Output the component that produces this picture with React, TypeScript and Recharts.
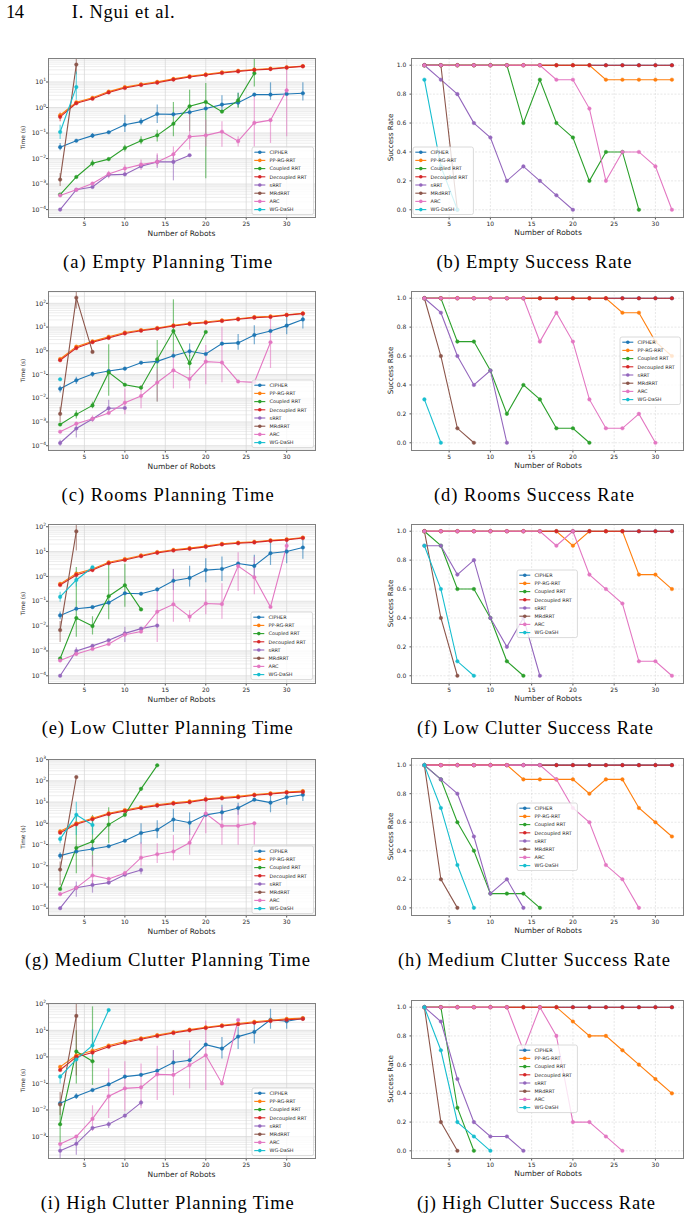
import React from "react"
import { LineChart, Line, XAxis, YAxis, CartesianGrid, ErrorBar } from "recharts"

type Val = number | null
// [method, robots, low, high]
type Err = [string, number, number, number]

const robots = [2, 4, 6, 8, 10, 12, 14, 16, 18, 20, 22, 24, 26, 28, 30, 32]
const methods = ["CIPHER", "PP-RG-RRT", "Coupled RRT", "Decoupled RRT", "sRRT", "MRdRRT", "ARC", "WG-DaSH"]
const colors = ["#1f77b4", "#ff7f0e", "#2ca02c", "#d62728", "#9467bd", "#8c564b", "#e377c2", "#17becf"]
const xTicks = [5, 10, 15, 20, 25, 30]
const rateTicks = [0, 0.2, 0.4, 0.6, 0.8, 1.0]

// ---- planning time (s), one row per method ----
const emptyTime: Val[][] = [
  [0.028, 0.05, 0.079, 0.107, 0.21, 0.28, 0.56, 0.54, 0.65, 0.91, 1.3, 1.55, 3.2, 3.2, 3.4, 3.6],
  [0.5, 1.6, 2.4, 4.2, 6.3, 8.1, 10.1, 13.2, 16.8, 19.8, 24, 27.5, 31, 33.5, 38, 42],
  [0.00039, 0.0019, 0.0065, 0.0095, 0.026, 0.05, 0.081, 0.23, 1.12, 1.65, 0.69, 1.9, 22, null, null, null],
  [0.43, 1.46, 2.2, 3.9, 5.8, 7.6, 9.4, 12.4, 15.8, 18.8, 22.4, 26, 29.5, 32, 36.5, 41],
  [0.0001, 0.0006, 0.00077, 0.0023, 0.0024, 0.005, 0.0074, 0.0074, 0.0135, null, null, null, null, null, null, null],
  [0.0015, 48, null, null, null, null, null, null, null, null, null, null, null, null, null, null],
  [0.00036, 0.0006, 0.00105, 0.0025, 0.0041, 0.0058, 0.0074, 0.0148, 0.072, 0.081, 0.113, 0.048, 0.25, 0.32, 4.7, null],
  [0.11, 6.3, null, null, null, null, null, null, null, null, null, null, null, null, null, null],
]
const emptyTimeErr: Err[] = [
  ["CIPHER", 2, 0.021, 0.041], ["CIPHER", 6, 0.064, 0.1], ["CIPHER", 10, 0.11, 0.52],
  ["CIPHER", 12, 0.21, 0.39], ["CIPHER", 14, 0.25, 1.3], ["CIPHER", 22, 0.71, 3.0],
  ["CIPHER", 24, 1.05, 3.9], ["CIPHER", 28, 2.0, 9.7], ["CIPHER", 32, 1.9, 9.7],
  ["Decoupled RRT", 2, 0.29, 0.64],
  ["Coupled RRT", 6, 0.0049, 0.009], ["Coupled RRT", 10, 0.019, 0.035], ["Coupled RRT", 12, 0.036, 0.074],
  ["Coupled RRT", 14, 0.047, 0.135], ["Coupled RRT", 16, 0.075, 1.65], ["Coupled RRT", 18, 0.118, 5.0],
  ["Coupled RRT", 20, 0.0017, 9.1], ["Coupled RRT", 24, 0.96, 3.7], ["Coupled RRT", 26, 6.7, 200],
  ["ARC", 8, 0.0017, 0.0033], ["ARC", 10, 0.0027, 0.0058], ["ARC", 12, 0.0036, 0.0091],
  ["ARC", 14, 0.005, 0.016], ["ARC", 16, 0.0067, 0.03], ["ARC", 18, 0.0224, 0.61],
  ["ARC", 20, 0.03, 0.34], ["ARC", 22, 0.029, 0.29], ["ARC", 24, 0.03, 0.074],
  ["ARC", 26, 0.03, 3.7], ["ARC", 28, 0.041, 0.34], ["ARC", 30, 0.075, 41],
  ["sRRT", 14, 0.0043, 0.014], ["sRRT", 16, 0.0014, 0.014],
  ["MRdRRT", 2, 0.00084, 0.0027], ["MRdRRT", 4, 20, 200],
  ["WG-DaSH", 2, 0.058, 0.21], ["WG-DaSH", 4, 2.0, 26],
]

const roomsTime: Val[][] = [
  [0.025, 0.057, 0.105, 0.14, 0.177, 0.316, 0.36, 0.62, 0.95, 0.73, 2.0, 2.15, 4.6, 6.8, 11.5, 21],
  [0.45, 1.5, 2.5, 3.9, 5.9, 7.5, 9.2, 11.8, 14.3, 16.3, 19.3, 22.5, 26.5, 28.5, 33, 38],
  [0.00078, 0.0021, 0.005, 0.123, 0.037, 0.028, 0.44, 6.8, 0.3, 6.2, null, null, null, null, null, null],
  [0.4, 1.3, 2.3, 3.5, 5.4, 7.0, 8.6, 11.1, 13.4, 15.3, 18, 21.2, 25, 26.6, 32, 36.7],
  [0.00013, 0.00053, 0.00134, 0.0038, 0.0039, null, null, null, null, null, null, null, null, null, null, null],
  [0.0022, 173, 0.9, null, null, null, null, null, null, null, null, null, null, null, null, null],
  [0.00039, 0.00085, 0.00138, 0.0024, 0.0065, 0.0125, 0.046, 0.15, 0.065, 0.35, 0.32, 0.051, 0.047, 2.3, null, null],
  [0.063, null, null, null, null, null, null, null, null, null, null, null, null, null, null, null],
]
const roomsTimeErr: Err[] = [
  ["CIPHER", 2, 0.0176, 0.034], ["CIPHER", 4, 0.04, 0.081], ["CIPHER", 6, 0.081, 0.13],
  ["CIPHER", 18, 0.57, 2.06], ["CIPHER", 24, 1.1, 5.1], ["CIPHER", 26, 1.88, 12],
  ["CIPHER", 30, 5, 27], ["CIPHER", 32, 8.8, 42],
  ["Coupled RRT", 4, 0.0014, 0.0031], ["Coupled RRT", 6, 0.0038, 0.0072], ["Coupled RRT", 8, 0.0128, 1.88],
  ["Coupled RRT", 14, 0.0073, 2.85], ["Coupled RRT", 16, 0.67, 148], ["Coupled RRT", 18, 0.155, 0.67],
  ["ARC", 6, 0.001, 0.0019], ["ARC", 10, 0.0021, 0.026], ["ARC", 12, 0.0038, 0.036],
  ["ARC", 14, 0.0073, 0.18], ["ARC", 16, 0.026, 0.92], ["ARC", 18, 0.026, 0.18],
  ["ARC", 20, 0.039, 1.75], ["ARC", 22, 0.047, 10.4], ["ARC", 28, 0.19, 27],
  ["sRRT", 2, 0.0001, 0.00018], ["sRRT", 4, 0.00022, 0.0009], ["sRRT", 8, 0.0021, 0.0086],
  ["MRdRRT", 2, 0.001, 0.0044], ["MRdRRT", 4, 60, 330],
]

const lowTime: Val[][] = [
  [0.027, 0.05, 0.058, 0.088, 0.21, 0.2, 0.3, 0.67, 0.87, 1.8, 2.0, 3.3, 2.65, 8.6, 10, 14.6],
  [0.5, 1.3, 2.0, 3.7, 5.0, 7.0, 9.6, 11.8, 13.8, 16.6, 20.6, 23, 25, 28.5, 31.5, 37],
  [0.0005, 0.021, 0.01, 0.16, 0.44, 0.047, null, null, null, null, null, null, null, null, null, null],
  [0.45, 1.15, 1.8, 3.4, 4.6, 6.5, 8.9, 11, 12.9, 15.5, 19.4, 21.5, 23.4, 27, 29.5, 35],
  [0.0001, 0.001, 0.0016, 0.0027, 0.0051, 0.0079, 0.0105, null, null, null, null, null, null, null, null, null],
  [0.0069, 65, null, null, null, null, null, null, null, null, null, null, null, null, null, null],
  [0.00041, 0.00076, 0.0012, 0.0019, 0.0045, 0.006, 0.038, 0.075, 0.024, 0.081, 0.077, 2.6, 0.92, 0.059, 17, null],
  [0.15, 0.72, 2.35, null, null, null, null, null, null, null, null, null, null, null, null, null],
]
const lowTimeErr: Err[] = [
  ["CIPHER", 2, 0.019, 0.039], ["CIPHER", 16, 0.28, 2.0], ["CIPHER", 18, 0.39, 2.7],
  ["CIPHER", 20, 0.58, 5.4], ["CIPHER", 22, 0.66, 6.3], ["CIPHER", 26, 0.84, 7.4],
  ["CIPHER", 28, 2.9, 25.5], ["CIPHER", 30, 3.4, 25.5], ["CIPHER", 32, 5.1, 33],
  ["Coupled RRT", 4, 0.0037, 2.4], ["Coupled RRT", 6, 0.0046, 0.025], ["Coupled RRT", 8, 0.019, 3.1],
  ["Coupled RRT", 10, 0.06, 3.2],
  ["ARC", 14, 0.0023, 0.3], ["ARC", 16, 0.015, 2.0], ["ARC", 18, 0.0148, 0.044],
  ["ARC", 20, 0.03, 0.31], ["ARC", 22, 0.02, 0.53], ["ARC", 24, 0.26, 9.5],
  ["ARC", 26, 0.19, 6.2], ["ARC", 30, 9, 27],
  ["sRRT", 4, 0.00066, 0.0014], ["sRRT", 10, 0.0023, 0.0095],
  ["MRdRRT", 2, 0.0023, 0.016], ["MRdRRT", 4, 11, 128],
  ["WG-DaSH", 2, 0.095, 0.24], ["WG-DaSH", 4, 0.39, 1.65],
]

const mediumTime: Val[][] = [
  [0.03, 0.047, 0.062, 0.083, 0.15, 0.35, 0.5, 1.5, 1.07, 2.5, 3.3, 5.3, 13, 9.4, 17, 22],
  [0.42, 1.0, 1.75, 3.0, 4.2, 5.8, 7.5, 9.3, 10.8, 14, 16.5, 18.5, 22.5, 26, 30, 33],
  [0.0008, 0.069, 0.14, 0.87, 2.5, 42, 540, null, null, null, null, null, null, null, null, null],
  [0.36, 0.9, 1.55, 2.7, 3.8, 5.3, 6.8, 8.5, 9.8, 13, 15, 17, 21, 24, 28, 30],
  [0.0001, 0.00093, 0.00125, 0.0016, 0.0038, 0.0063, null, null, null, null, null, null, null, null, null, null],
  [0.0066, 150, null, null, null, null, null, null, null, null, null, null, null, null, null, null],
  [0.00046, 0.00091, 0.0035, 0.0024, 0.0045, 0.024, 0.035, 0.047, 0.12, 2.9, 0.76, 0.76, 1.0, null, null, null],
  [0.18, 2.5, 0.83, null, null, null, null, null, null, null, null, null, null, null, null, null],
]
const mediumTimeErr: Err[] = [
  ["CIPHER", 2, 0.021, 0.043], ["CIPHER", 12, 0.11, 1.0], ["CIPHER", 14, 0.2, 1.4],
  ["CIPHER", 16, 0.4, 4.8], ["CIPHER", 18, 0.28, 3.3], ["CIPHER", 22, 1.4, 7.4],
  ["CIPHER", 24, 2.5, 9.4], ["CIPHER", 28, 3.3, 21.6], ["CIPHER", 30, 7.4, 33], ["CIPHER", 32, 11.4, 40],
  ["Coupled RRT", 4, 0.0044, 2.5], ["Coupled RRT", 6, 0.0091, 2.5], ["Coupled RRT", 8, 0.115, 5.7],
  ["ARC", 6, 0.00126, 0.032], ["ARC", 12, 0.0093, 0.128], ["ARC", 14, 0.0135, 0.115],
  ["ARC", 16, 0.0177, 0.28], ["ARC", 18, 0.033, 0.58], ["ARC", 20, 0.34, 21.6],
  ["ARC", 22, 0.097, 6.1], ["ARC", 24, 0.097, 7.4], ["ARC", 26, 0.1, 1.0],
  ["sRRT", 4, 0.00035, 0.0018], ["sRRT", 6, 0.00054, 0.0021], ["sRRT", 12, 0.004, 0.0081],
  ["MRdRRT", 2, 0.0012, 0.016],
  ["WG-DaSH", 2, 0.115, 0.25], ["WG-DaSH", 4, 0.28, 10.5], ["WG-DaSH", 6, 0.3, 1.7],
]

const highTime: Val[][] = [
  [0.018, 0.033, 0.056, 0.092, 0.18, 0.21, 0.3, 0.61, 0.75, 2.9, 2.05, 5.8, 8.7, 25, 22, 28],
  [0.42, 1.15, 1.7, 2.7, 3.8, 5.0, 6.6, 8.5, 10.6, 13, 15.4, 18, 21, 24, 27, 29],
  [0.0029, 1.6, 0.68, null, null, null, null, null, null, null, null, null, null, null, null, null],
  [0.32, 1.0, 1.45, 2.4, 3.4, 4.6, 6.1, 7.9, 10, 12.2, 14.5, 16.8, 19.4, 22.4, 25, 27],
  [0.00029, 0.00053, 0.0021, 0.0029, 0.0061, 0.019, null, null, null, null, null, null, null, null, null, null],
  [0.016, 35, null, null, null, null, null, null, null, null, null, null, null, null, null, null],
  [0.00052, 0.001, 0.0046, 0.033, 0.065, 0.071, 0.22, 0.21, 0.49, 1.15, 0.1, 24.5, null, null, null, null],
  [0.18, 0.8, 2.7, 58, null, null, null, null, null, null, null, null, null, null, null, null],
]
const highTimeErr: Err[] = [
  ["CIPHER", 4, 0.026, 0.043], ["CIPHER", 16, 0.27, 1.8], ["CIPHER", 22, 0.87, 5.6],
  ["CIPHER", 24, 2.0, 13.3], ["CIPHER", 26, 3.2, 17.8], ["CIPHER", 28, 11.5, 65], ["CIPHER", 30, 11.5, 31],
  ["Coupled RRT", 2, 0.0006, 0.0142], ["Coupled RRT", 4, 0.1, 10], ["Coupled RRT", 6, 0.088, 80],
  ["ARC", 6, 0.0016, 0.015], ["ARC", 8, 0.005, 0.37], ["ARC", 10, 0.0089, 0.69],
  ["ARC", 12, 0.0115, 0.56], ["ARC", 14, 0.0237, 2.6], ["ARC", 16, 0.036, 1.8],
  ["ARC", 18, 0.065, 4.2], ["ARC", 20, 0.056, 23.7], ["ARC", 24, 20, 27],
  ["sRRT", 2, 0.0001, 0.00049], ["sRRT", 4, 0.000207, 0.001], ["sRRT", 8, 0.0021, 0.0037], ["sRRT", 12, 0.0145, 0.024],
  ["MRdRRT", 2, 0.0065, 0.048], ["MRdRRT", 4, 0.2, 105],
  ["WG-DaSH", 2, 0.1, 0.22], ["WG-DaSH", 6, 1.0, 11],
]

// ---- success rate, one row per method ----
const emptyRate: Val[][] = [
  [1, 1, 1, 1, 1, 1, 1, 1, 1, 1, 1, 1, 1, 1, 1, 1],
  [1, 1, 1, 1, 1, 1, 1, 1, 1, 1, 1, 0.9, 0.9, 0.9, 0.9, 0.9],
  [1, 1, 1, 1, 1, 1, 0.6, 0.9, 0.6, 0.5, 0.2, 0.4, 0.4, 0.0, null, null],
  [1, 1, 1, 1, 1, 1, 1, 1, 1, 1, 1, 1, 1, 1, 1, 1],
  [1.0, 0.9, 0.8, 0.6, 0.5, 0.2, 0.3, 0.2, 0.1, 0.0, null, null, null, null, null, null],
  [1.0, 1.0, 0.0, null, null, null, null, null, null, null, null, null, null, null, null, null],
  [1, 1, 1, 1, 1, 1, 1, 1, 0.9, 0.9, 0.7, 0.2, 0.4, 0.4, 0.3, 0.0],
  [0.9, 0.3, 0.0, null, null, null, null, null, null, null, null, null, null, null, null, null],
]
const roomsRate: Val[][] = [
  [1, 1, 1, 1, 1, 1, 1, 1, 1, 1, 1, 1, 1, 1, 1, 1],
  [1, 1, 1, 1, 1, 1, 1, 1, 1, 1, 1, 1, 0.9, 0.9, 0.7, 0.6],
  [1.0, 1.0, 0.7, 0.7, 0.5, 0.2, 0.4, 0.3, 0.1, 0.1, 0.0, null, null, null, null, null],
  [1, 1, 1, 1, 1, 1, 1, 1, 1, 1, 1, 1, 1, 1, 1, 1],
  [1.0, 0.9, 0.6, 0.4, 0.5, 0.0, null, null, null, null, null, null, null, null, null, null],
  [1.0, 0.6, 0.1, 0.0, null, null, null, null, null, null, null, null, null, null, null, null],
  [1, 1, 1, 1, 1, 1, 1, 0.7, 0.9, 0.7, 0.3, 0.1, 0.1, 0.2, 0.0, null],
  [0.3, 0.0, null, null, null, null, null, null, null, null, null, null, null, null, null, null],
]
const lowRate: Val[][] = [
  [1, 1, 1, 1, 1, 1, 1, 1, 1, 1, 1, 1, 1, 1, 1, 1],
  [1, 1, 1, 1, 1, 1, 1, 1, 1, 0.9, 1, 1, 1, 0.7, 0.7, 0.6],
  [1.0, 0.9, 0.6, 0.6, 0.4, 0.1, 0.0, null, null, null, null, null, null, null, null, null],
  [1, 1, 1, 1, 1, 1, 1, 1, 1, 1, 1, 1, 1, 1, 1, 1],
  [0.9, 0.9, 0.7, 0.8, 0.4, 0.2, 0.4, 0.0, null, null, null, null, null, null, null, null],
  [1.0, 0.4, 0.0, null, null, null, null, null, null, null, null, null, null, null, null, null],
  [1, 1, 1, 1, 1, 1, 1, 1, 0.9, 1.0, 0.7, 0.6, 0.5, 0.1, 0.1, 0.0],
  [0.9, 0.6, 0.1, 0.0, null, null, null, null, null, null, null, null, null, null, null, null],
]
const mediumRate: Val[][] = [
  [1, 1, 1, 1, 1, 1, 1, 1, 1, 1, 1, 1, 1, 1, 1, 1],
  [1, 1, 1, 1, 1, 1, 0.9, 0.9, 0.9, 0.9, 0.8, 0.9, 0.9, 0.7, 0.6, 0.5],
  [1.0, 0.9, 0.6, 0.4, 0.1, 0.1, 0.1, 0.0, null, null, null, null, null, null, null, null],
  [1, 1, 1, 1, 1, 1, 1, 1, 1, 1, 1, 1, 1, 1, 1, 1],
  [1.0, 0.9, 0.8, 0.5, 0.1, 0.2, 0.0, null, null, null, null, null, null, null, null, null],
  [1.0, 0.2, 0.0, null, null, null, null, null, null, null, null, null, null, null, null, null],
  [1, 1, 1, 1, 1, 1, 1, 1, 0.9, 0.7, 0.6, 0.3, 0.2, 0.0, null, null],
  [1.0, 0.7, 0.3, 0.0, null, null, null, null, null, null, null, null, null, null, null, null],
]
const highRate: Val[][] = [
  [1, 1, 1, 1, 1, 1, 1, 1, 1, 1, 1, 1, 1, 1, 1, 1],
  [1, 1, 1, 1, 1, 1, 1, 1, 1, 0.9, 0.8, 0.8, 0.7, 0.6, 0.5, 0.4],
  [1.0, 1.0, 0.3, 0.0, null, null, null, null, null, null, null, null, null, null, null, null],
  [1, 1, 1, 1, 1, 1, 1, 1, 1, 1, 1, 1, 1, 1, 1, 1],
  [1.0, 0.9, 0.5, 0.2, 0.1, 0.1, 0.0, null, null, null, null, null, null, null, null, null],
  [1.0, 0.2, 0.0, null, null, null, null, null, null, null, null, null, null, null, null, null],
  [1, 1, 1, 1, 1, 1, 0.7, 1.0, 0.8, 0.2, 0.2, 0.1, 0.0, null, null, null],
  [1.0, 0.7, 0.2, 0.1, 0.0, null, null, null, null, null, null, null, null, null, null, null],
]

// layout: plot box [x, y, w, h] in page pixels, legend top-left corner
const timePanels = [
  { series: emptyTime, errs: emptyTimeErr, logRange: [-4.29, 1.94], box: [48, 58, 267, 159], legend: [251.7, 146.7] },
  { series: roomsTime, errs: roomsTimeErr, logRange: [-4.18, 2.52], box: [48, 291, 267, 159], legend: [251.7, 380] },
  { series: lowTime, errs: lowTimeErr, logRange: [-4.29, 2.11], box: [48, 524, 267, 159], legend: [251.3, 612.3] },
  { series: mediumTime, errs: mediumTimeErr, logRange: [-4.32, 3.03], box: [48, 759, 267, 156], legend: [251.7, 846] },
  { series: highTime, errs: highTimeErr, logRange: [-3.81, 2.03], box: [48, 1003, 267, 155], legend: [251.7, 1088.3] },
]
const ratePanels = [
  { series: emptyRate, box: [411.7, 58, 272.3, 159], legend: [413.3, 146.7] },
  { series: roomsRate, box: [411.7, 291, 272.3, 159], legend: [620, 336.7] },
  { series: lowRate, box: [411.7, 524, 272.3, 159], legend: [517.3, 570] },
  { series: mediumRate, box: [411.7, 758, 272.3, 157], legend: [517.3, 802.7] },
  { series: highRate, box: [411.7, 1000, 272.3, 158], legend: [517.3, 1045] },
]

// caption text, centre x, baseline y, width
const captions: [string, number, number, number][] = [
  ["(a) Empty Planning Time", 167.6, 268, 209],
  ["(b) Empty Success Rate", 534, 268, 195],
  ["(c) Rooms Planning Time", 167.6, 501, 212],
  ["(d) Rooms Success Rate", 534, 501, 200],
  ["(e) Low Clutter Planning Time", 167.3, 733.5, 251],
  ["(f) Low Clutter Success Rate", 535, 733.5, 236],
  ["(g) Medium Clutter Planning Time", 167.5, 966, 285],
  ["(h) Medium Clutter Success Rate", 534, 966, 272],
  ["(i) High Clutter Planning Time", 167.3, 1208.5, 253],
  ["(j) High Clutter Success Rate", 536, 1208.5, 238],
]

const FONT = "DejaVu Sans"
const INK = "#262626"
const YW = 40
const MT = 6
const MR = 6
const XH = 22

function seriesRows(series: Val[][]) {
  return robots.map((r, i) => {
    const row: Record<string, any> = { robots: r }
    series.forEach((vals, k) => {
      row[`m${k}`] = vals[i]
    })
    return row
  })
}

// error bars are stored as absolute bounds; recharts wants offsets from the value
function withErrors(rows: Record<string, any>[], errs: Err[], dMin: number, dMax: number) {
  errs.forEach(([name, r, low, high]) => {
    const k = methods.indexOf(name)
    const row = rows[robots.indexOf(r)]
    const v = row[`m${k}`]
    if (v == null) return
    row[`e${k}`] = [v - Math.max(low, dMin), Math.min(high, dMax) - v]
  })
  return rows
}

function PowTick({ x, y, payload }: any) {
  const e = Math.round(Math.log10(payload.value))
  return (
    <text x={x} y={y} dy={2.2} textAnchor="end" fontSize={6.2} fill={INK} fontFamily={FONT}>
      10
      <tspan fontSize={4.4} dy={-3}>{e < 0 ? "\u2212" + -e : String(e)}</tspan>
    </text>
  )
}

function LegendBox({ x, y, w }: { x: number; y: number; w: number }) {
  const h = 67.6
  return (
    <svg width={w + 2} height={h + 2} style={{ position: "absolute", left: x - 1, top: y - 1 }}>
      <rect x={1} y={1} width={w} height={h} rx={2} fill="#fff" fillOpacity={0.8} stroke="#d0d0d0" strokeWidth={0.8} />
      {methods.map((m, k) => {
        const cy = 1 + 5.2 + k * 8.2
        return (
          <g key={m}>
            <line x1={3.3} x2={14.3} y1={cy} y2={cy} stroke={colors[k]} strokeWidth={1.1} />
            <circle cx={8.8} cy={cy} r={1.8} fill={colors[k]} />
            <text x={18.6} y={cy} dy={1.7} fontSize={4.9} fontFamily={FONT} fill={INK}>{m}</text>
          </g>
        )
      })}
    </svg>
  )
}

function Frame({ box }: { box: number[] }) {
  const [x, y, w, h] = box
  return (
    <div style={{ position: "absolute", left: x - 0.5, top: y - 0.5, width: w + 1, height: h + 1, boxSizing: "border-box", border: "1px solid #808080" }} />
  )
}

const xAxisProps = {
  dataKey: "robots",
  type: "number" as const,
  domain: [0.5, 33.5],
  ticks: xTicks,
  interval: 0,
  allowDataOverflow: true,
  height: XH,
  tickSize: 2.5,
  tickMargin: 2.2,
  axisLine: false,
  tickLine: { stroke: "#555" },
  tick: { fontSize: 6, fill: INK, fontFamily: FONT },
  label: { value: "Number of Robots", position: "insideBottom" as const, offset: 3.5, fontSize: 7.5, fill: INK, fontFamily: FONT },
}

function TimePanel({ p }: { p: (typeof timePanels)[number] }) {
  const [x, y, w, h] = p.box
  const [lo, hi] = p.logRange
  const dMin = Math.pow(10, lo)
  const dMax = Math.pow(10, hi)
  const rows = withErrors(seriesRows(p.series), p.errs, dMin, dMax)

  const decades: number[] = []
  for (let e = Math.ceil(lo); e <= Math.floor(hi); e++) decades.push(Math.pow(10, e))
  const minors: number[] = []
  for (let e = Math.floor(lo); e <= Math.ceil(hi); e++) {
    for (let m = 2; m <= 9; m++) {
      const v = m * Math.pow(10, e)
      if (v > dMin && v < dMax) minors.push(v)
    }
  }

  return (
    <>
      <div style={{ position: "absolute", left: x - YW, top: y - MT }}>
        <LineChart width={YW + w + MR} height={MT + h + XH} data={rows} margin={{ top: MT, right: MR, bottom: 0, left: 0 }}>
          <CartesianGrid horizontalValues={minors} vertical={false} stroke="#e0e0e0" strokeWidth={0.6} />
          <CartesianGrid horizontalValues={decades} verticalValues={xTicks} stroke="#d6d6d6" strokeWidth={0.7} />
          <XAxis {...xAxisProps} />
          <YAxis
            type="number"
            scale="log"
            domain={[dMin, dMax]}
            allowDataOverflow
            ticks={decades}
            interval={0}
            width={YW}
            tickSize={2}
            tickMargin={0}
            axisLine={false}
            tickLine={{ stroke: "#555" }}
            tick={<PowTick />}
            label={{ value: "Time (s)", angle: -90, position: "insideLeft", offset: 14.7, fontSize: 5.8, fill: INK, fontFamily: FONT, style: { textAnchor: "middle" } }}
          />
          {methods.map((m, k) => (
            <Line
              key={m}
              dataKey={`m${k}`}
              name={m}
              stroke={colors[k]}
              strokeWidth={1.1}
              dot={{ r: 1.8, fill: colors[k], stroke: colors[k], strokeWidth: 0.4 }}
              activeDot={false}
              connectNulls={false}
              isAnimationActive={false}
            >
              <ErrorBar dataKey={`e${k}`} direction="y" width={0} stroke={colors[k]} strokeOpacity={0.6} strokeWidth={1.2} />
            </Line>
          ))}
        </LineChart>
      </div>
      <Frame box={p.box} />
      <LegendBox x={p.legend[0]} y={p.legend[1]} w={61.6} />
    </>
  )
}

function RatePanel({ p }: { p: (typeof ratePanels)[number] }) {
  const [x, y, w, h] = p.box
  const rows = seriesRows(p.series)
  return (
    <>
      <div style={{ position: "absolute", left: x - YW, top: y - MT }}>
        <LineChart width={YW + w + MR} height={MT + h + XH} data={rows} margin={{ top: MT, right: MR, bottom: 0, left: 0 }}>
          <CartesianGrid horizontalValues={rateTicks} verticalValues={xTicks} stroke="#d6d6d6" strokeWidth={0.6} strokeDasharray="2 1.5" />
          <XAxis {...xAxisProps} />
          <YAxis
            type="number"
            domain={[-0.05, 1.05]}
            allowDataOverflow
            ticks={rateTicks}
            interval={0}
            width={YW}
            tickSize={2.5}
            tickMargin={3.2}
            axisLine={false}
            tickLine={{ stroke: "#555" }}
            tickFormatter={(v: number) => v.toFixed(1)}
            tick={{ fontSize: 6, fill: INK, fontFamily: FONT }}
            label={{ value: "Success Rate", angle: -90, position: "insideLeft", offset: 18.3, fontSize: 7.2, fill: INK, fontFamily: FONT, style: { textAnchor: "middle" } }}
          />
          {methods.map((m, k) => (
            <Line
              key={m}
              dataKey={`m${k}`}
              name={m}
              stroke={colors[k]}
              strokeWidth={1.1}
              dot={{ r: 1.8, fill: colors[k], stroke: colors[k], strokeWidth: 0.4 }}
              activeDot={false}
              connectNulls={false}
              isAnimationActive={false}
            />
          ))}
        </LineChart>
      </div>
      <Frame box={p.box} />
      <LegendBox x={p.legend[0]} y={p.legend[1]} w={60.4} />
    </>
  )
}

export default function App() {
  return (
    <div style={{ position: "absolute", left: 0, top: 0, width: 691, height: 1220, background: "#fff", overflow: "hidden" }}>
      {timePanels.map((p, i) => (
        <TimePanel key={`t${i}`} p={p} />
      ))}
      {ratePanels.map((p, i) => (
        <RatePanel key={`r${i}`} p={p} />
      ))}
      <svg width={691} height={1220} style={{ position: "absolute", left: 0, top: 0, pointerEvents: "none" }}>
        <g fontFamily="Liberation Serif" fontSize={18.5} fill="#000">
          <text x={6} y={18.3} textLength={18} lengthAdjust="spacing">14</text>
          <text x={71.7} y={18.3} textLength={103} lengthAdjust="spacing">I. Ngui et al.</text>
          {captions.map(([t, cx, by, tw]) => (
            <text key={t} x={cx - tw / 2} y={by} textLength={tw} lengthAdjust="spacing">{t}</text>
          ))}
        </g>
      </svg>
    </div>
  )
}
